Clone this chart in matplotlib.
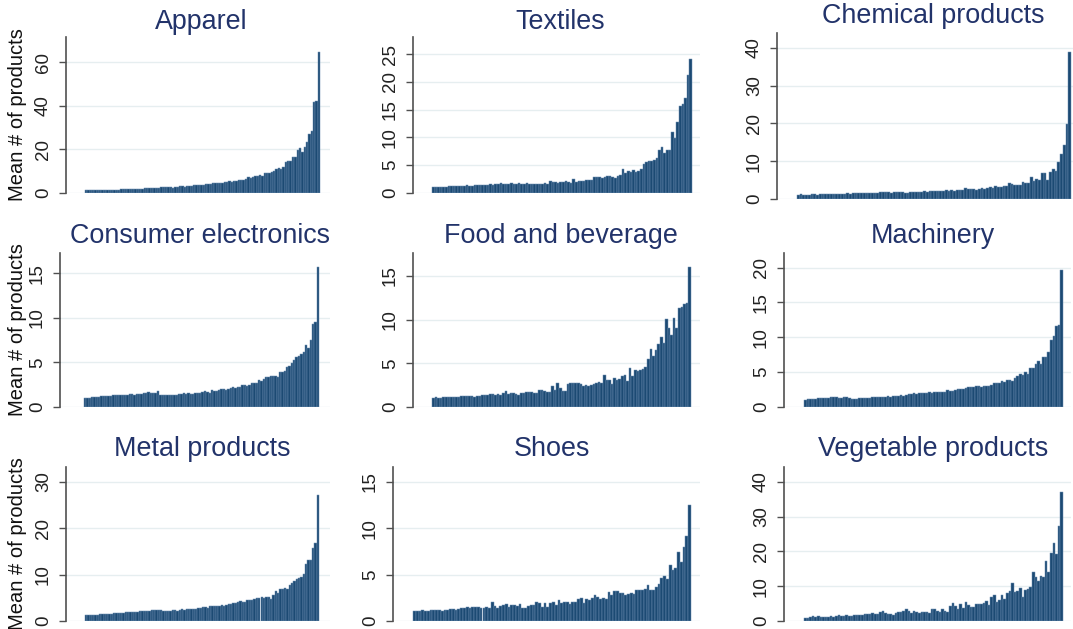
import numpy as np
import matplotlib
matplotlib.use("Agg")
import matplotlib.pyplot as plt

# --- Data: mean # of products, sorted bars per sector ---
titles = ["Apparel", "Textiles", "Chemical products",
          "Consumer electronics", "Food and beverage", "Machinery",
          "Metal products", "Shoes", "Vegetable products"]

apparel = [
    1.2, 1.2, 1.25, 1.3, 1.3, 1.35, 1.35, 1.4, 1.4, 1.45,
    1.5, 1.5, 1.55, 1.6, 1.6, 1.65, 1.7, 1.7, 1.75, 1.8,
    1.8, 1.9, 1.9, 2.0, 2.0, 2.1, 2.1, 2.2, 2.2, 2.3,
    2.4, 2.5, 2.6, 2.7, 2.8, 2.8, 2.6, 2.3, 2.8, 2.9,
    3.0, 3.2, 2.9, 3.3, 3.4, 3.2, 3.5, 3.7, 3.6, 3.8,
    3.9, 4.0, 4.2, 4.1, 4.4, 4.5, 4.6, 4.8, 4.7, 5.0,
    5.0, 5.3, 5.1, 5.6, 5.5, 5.8, 6.0, 5.9, 6.2, 7.2,
    6.9, 7.3, 7.6, 7.8, 8.2, 8.0, 9.0, 9.3, 9.2, 9.5,
    10.3, 10.8, 11.6, 11.0, 12.0, 14.2, 14.8, 14.6, 16.4, 16.5,
    19.8, 20.5, 19.0, 21.0, 23.5, 27.0, 28.5, 41.8, 42.0, 64.5]

textiles = [
    1.1, 1.05, 1.1, 1.1, 1.15, 1.15, 1.2, 1.2, 1.25, 1.2,
    1.3, 1.25, 1.3, 1.4, 1.35, 1.3, 1.4, 1.45, 1.4, 1.45,
    1.5, 1.5, 1.55, 1.5, 1.6, 1.6, 1.75, 1.6, 1.65, 1.7,
    1.75, 1.6, 1.7, 1.8, 1.7, 1.65, 1.75, 1.7, 1.6, 1.65,
    1.7, 1.65, 1.6, 1.75, 1.65, 2.1, 1.9, 2.05, 1.85, 2.0,
    2.05, 2.1, 1.9, 1.85, 2.5, 1.9, 2.2, 2.2, 2.25, 2.3,
    2.4, 2.3, 2.8, 2.9, 2.8, 2.7, 2.9, 3.0, 3.0, 2.9,
    2.7, 3.0, 3.3, 4.3, 3.6, 3.9, 3.7, 4.2, 3.7, 3.9,
    4.3, 5.2, 5.6, 5.7, 5.8, 6.0, 6.3, 7.7, 8.2, 7.2,
    7.8, 7.8, 10.9, 9.9, 12.7, 15.6, 16.1, 17.2, 21.3, 24.2]

chemical = [
    1.1, 1.2, 1.15, 1.1, 1.1, 1.2, 1.2, 1.15, 1.2, 1.2,
    1.3, 1.25, 1.3, 1.3, 1.35, 1.4, 1.4, 1.45, 1.5, 1.45,
    1.5, 1.5, 1.55, 1.6, 1.6, 1.6, 1.65, 1.6, 1.7, 1.7,
    1.75, 1.75, 1.9, 1.75, 1.7, 1.8, 1.8, 1.75, 1.9, 1.7,
    1.7, 1.8, 1.75, 1.8, 1.85, 1.9, 2.0, 1.95, 2.0, 2.0,
    2.05, 2.1, 2.1, 2.2, 2.3, 2.2, 2.3, 2.2, 2.4, 2.3,
    2.5, 2.8, 2.6, 2.7, 2.6, 2.5, 2.7, 2.9, 2.6, 3.0,
    3.1, 2.8, 3.4, 3.1, 3.2, 3.4, 3.5, 4.2, 3.9, 3.7,
    3.6, 3.7, 4.6, 4.1, 4.3, 5.7, 4.8, 5.3, 5.1, 6.8,
    6.9, 5.0, 7.2, 8.0, 7.5, 9.8, 11.8, 14.2, 19.8, 38.8]

consumer = [
    1.05, 1.05, 1.05, 1.1, 1.1, 1.15, 1.15, 1.2, 1.2, 1.2,
    1.25, 1.25, 1.3, 1.3, 1.3, 1.35, 1.35, 1.35, 1.4, 1.45,
    1.45, 1.4, 1.5, 1.45, 1.5, 1.55, 1.6, 1.65, 1.6, 1.55,
    1.6, 1.75, 1.4, 1.3, 1.3, 1.35, 1.35, 1.4, 1.35, 1.3,
    1.5, 1.5, 1.55, 1.5, 1.6, 1.45, 1.5, 1.55, 1.6, 1.6,
    1.65, 1.8, 1.7, 1.6, 1.95, 1.85, 1.8, 1.9, 2.0, 2.0,
    1.95, 2.0, 2.1, 2.2, 2.15, 2.2, 2.3, 2.45, 2.5, 2.35,
    2.5, 2.75, 2.65, 2.7, 3.0, 2.95, 3.1, 3.35, 3.4, 3.45,
    3.45, 3.5, 3.35, 3.9, 3.95, 4.0, 4.5, 4.6, 4.9, 5.3,
    5.6, 5.7, 5.9, 6.2, 7.0, 6.6, 7.5, 9.3, 9.6, 15.7]

food = [
    1.0, 1.1, 1.05, 1.05, 1.1, 1.1, 1.1, 1.15, 1.15, 1.1,
    1.15, 1.25, 1.25, 1.3, 1.25, 1.25, 1.15, 1.3, 1.3, 1.4,
    1.35, 1.35, 1.45, 1.5, 1.4, 1.5, 1.4, 1.6, 1.8, 1.5,
    1.55, 1.55, 1.5, 1.35, 1.6, 1.65, 1.75, 1.75, 1.7, 1.65,
    1.65, 2.0, 1.95, 1.8, 1.7, 1.75, 2.4, 1.9, 2.7, 2.2,
    1.8, 1.85, 2.6, 2.8, 2.7, 2.7, 2.75, 2.6, 2.4, 2.5,
    2.4, 2.5, 2.6, 2.8, 2.9, 2.8, 3.7, 3.1, 3.05, 2.6,
    3.3, 3.1, 3.15, 3.6, 3.7, 3.0, 4.5, 3.6, 4.2, 4.1,
    4.2, 4.4, 4.6, 5.5, 6.6, 5.8, 6.5, 7.2, 8.0, 7.3,
    10.1, 9.0, 8.2, 10.2, 9.0, 11.3, 11.4, 11.8, 11.9, 16.0]

machinery = [
    1.05, 1.1, 1.15, 1.2, 1.2, 1.25, 1.25, 1.3, 1.3, 1.35,
    1.4, 1.45, 1.4, 1.35, 1.35, 1.45, 1.5, 1.25, 1.2, 1.2,
    1.2, 1.25, 1.3, 1.3, 1.35, 1.35, 1.4, 1.4, 1.45, 1.5,
    1.45, 1.5, 1.55, 1.5, 1.55, 1.6, 1.65, 1.7, 1.65, 1.7,
    1.8, 1.9, 1.95, 1.9, 1.95, 2.0, 2.05, 2.0, 2.1, 2.05,
    2.15, 2.1, 2.2, 2.2, 2.2, 2.4, 2.3, 2.35, 2.45, 2.6,
    2.6, 2.65, 2.7, 2.8, 2.9, 2.85, 3.0, 2.95, 2.8, 3.05,
    3.0, 3.05, 3.2, 3.5, 3.4, 3.4, 3.75, 3.6, 3.85, 3.9,
    3.8, 4.1, 4.4, 4.7, 4.6, 5.0, 4.7, 5.6, 5.6, 6.2,
    6.6, 6.1, 7.2, 7.2, 7.9, 9.6, 10.2, 11.6, 11.8, 19.6]

metal = [
    1.2, 1.2, 1.25, 1.3, 1.35, 1.4, 1.45, 1.5, 1.5, 1.55,
    1.55, 1.6, 1.65, 1.7, 1.75, 1.8, 1.8, 1.85, 1.85, 1.9,
    1.9, 2.0, 2.0, 2.05, 2.1, 2.2, 2.2, 2.25, 2.3, 2.3,
    2.35, 2.3, 2.4, 2.2, 2.15, 2.1, 2.15, 2.3, 2.3, 2.2,
    2.4, 2.5, 2.45, 2.55, 2.6, 2.6, 2.6, 2.65, 2.7, 2.8,
    3.05, 2.95, 2.9, 3.15, 3.2, 3.2, 3.3, 3.3, 3.4, 3.3,
    3.5, 3.7, 3.7, 3.8, 3.9, 4.2, 4.3, 4.0, 4.2, 4.6,
    4.5, 4.6, 4.7, 5.0, 4.9, 5.1, 5.0, 5.2, 5.1, 4.8,
    5.7, 6.4, 6.1, 6.8, 7.0, 7.1, 6.8, 7.7, 8.2, 8.6,
    9.0, 9.2, 9.4, 10.2, 12.3, 13.1, 13.2, 15.8, 16.9, 27.1]

shoes = [
    1.1, 1.1, 1.05, 1.2, 1.1, 1.1, 1.15, 1.2, 1.15, 1.2,
    1.1, 1.15, 1.2, 1.3, 1.25, 1.2, 1.3, 1.35, 1.4, 1.5,
    1.4, 1.55, 1.5, 1.5, 1.45, 1.4, 1.5, 1.4, 2.0, 1.6,
    1.4, 1.6, 1.7, 1.8, 1.5, 1.7, 1.7, 1.65, 1.8, 1.35,
    1.4, 1.6, 1.7, 1.7, 2.0, 1.9, 1.5, 1.9, 1.5, 1.9,
    2.0, 1.7, 2.3, 1.95, 2.1, 2.0, 1.8, 2.1, 2.0, 2.4,
    2.5, 1.9, 2.4, 2.3, 2.5, 2.8, 2.55, 2.4, 2.5, 2.4,
    3.1, 2.8, 3.2, 3.2, 3.05, 3.0, 2.85, 2.9, 3.0, 2.9,
    3.3, 3.3, 3.3, 3.4, 3.9, 3.3, 3.3, 3.7, 4.0, 4.6,
    4.8, 4.5, 6.0, 5.5, 5.7, 7.4, 6.4, 8.0, 9.2, 12.5]

vegetable = [
    1.0, 1.0, 1.1, 1.3, 1.2, 1.3, 1.1, 1.2, 1.1, 1.2,
    1.3, 1.1, 1.4, 1.6, 1.5, 1.3, 1.6, 1.5, 1.5, 1.7,
    1.8, 1.7, 1.6, 2.0, 2.1, 2.0, 2.4, 2.0, 2.1, 2.5,
    3.0, 2.3, 2.0, 2.1, 1.8, 2.3, 2.5, 2.5, 3.0, 3.5,
    2.8, 2.3, 3.0, 2.7, 2.3, 2.6, 2.5, 2.6, 2.2, 3.5,
    3.4, 3.0, 2.5, 3.5, 2.8, 2.5, 4.2, 5.3, 4.3, 3.5,
    4.8, 3.7, 5.4, 4.5, 4.1, 4.1, 5.0, 5.0, 4.8, 5.3,
    5.8, 4.6, 6.8, 7.5, 5.5, 6.0, 7.6, 6.2, 8.0, 8.6,
    11.0, 8.2, 8.6, 9.4, 7.0, 9.0, 9.3, 9.8, 14.0, 12.7,
    11.4, 13.0, 12.6, 17.4, 14.2, 19.5, 22.4, 19.3, 27.3, 37.2]

series = [apparel, textiles, chemical, consumer, food, machinery,
          metal, shoes, vegetable]

yticks = [[0, 20, 40, 60], [0, 5, 10, 15, 20, 25], [0, 10, 20, 30, 40],
          [0, 5, 10, 15], [0, 5, 10, 15], [0, 5, 10, 15, 20],
          [0, 10, 20, 30], [0, 5, 10, 15], [0, 10, 20, 30, 40]]
ytop = [71.6, 28.1, 43.9, 17.3, 17.6, 22.1, 33.2, 16.6, 44.3]

# --- Layout in pixels: axes left, bar start, bar end, axes right, top, bottom, title x, title y ---
W, H = 1073, 629
layout = [
    (66, 85, 320, 330, 37, 193, 201, 22),
    (413, 432, 692, 700, 37, 193, 560, 22),
    (777, 797, 1071, 1079, 33, 199, 933, 16),
    (60, 84, 319, 330, 253, 407, 200, 236),
    (413, 432, 691, 700, 253, 407, 561, 236),
    (784, 804, 1063, 1071, 253, 407, 933, 236),
    (66, 85, 319, 330, 467, 621, 202, 449),
    (393, 413, 691, 700, 467, 621, 552, 449),
    (784, 804, 1063, 1071, 467, 621, 933, 449),
]

plt.rcParams["font.family"] = ["Liberation Sans", "DejaVu Sans"]
tick_font = ["Liberation Sans Narrow", "Liberation Sans", "DejaVu Sans"]
bar_color = "#1c4a73"
title_color = "#22336a"
grid_color = "#e6eef0"
axis_color = "#505050"

fig = plt.figure(figsize=(W / 100, H / 100), dpi=100)

for i, (vals, title) in enumerate(zip(series, titles)):
    left, b0, b1, right, top, bottom, tx, ty = layout[i]
    ax = fig.add_axes([left / W, 1 - bottom / H, (right - left) / W, (bottom - top) / H])
    n = len(vals)
    x = np.arange(n)
    ax.bar(x, vals, width=1.0, color=bar_color, edgecolor="#6d8fb2", linewidth=0.35)
    ppu = (b1 - b0) / n
    ax.set_xlim(-0.5 - (b0 - left) / ppu, n - 0.5 + (right - b1) / ppu)
    ax.set_ylim(0, ytop[i])
    ax.set_yticks(yticks[i])
    ax.set_xticks([])
    for t in yticks[i]:
        ax.axhline(t, color=grid_color, lw=1.0, zorder=0)
    for s in ["top", "right", "bottom"]:
        ax.spines[s].set_visible(False)
    ax.spines["left"].set_color(axis_color)
    ax.spines["left"].set_linewidth(1.2)
    ax.tick_params(axis="y", length=5, width=1.0, color=axis_color, pad=5,
                   labelcolor="#222222")
    for lab in ax.get_yticklabels():
        lab.set_rotation(90)
        lab.set_va("center")
        lab.set_family(tick_font)
        lab.set_fontsize(13.5)
    ax.set_axisbelow(True)
    fig.text(tx / W, 1 - ty / H, title, ha="center", va="center",
             fontsize=19.4, color=title_color)
    if i % 3 == 0:
        fig.text(18 / W, 1 - (top + bottom) / 2 / H, "Mean # of products",
                 rotation=90, ha="center", va="center", fontsize=14.5,
                 color="#111111")

fig.savefig("out.png", dpi=100)
